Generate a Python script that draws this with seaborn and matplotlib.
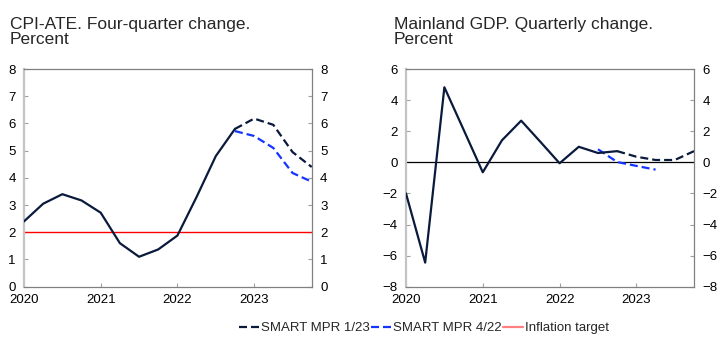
import matplotlib
matplotlib.use("Agg")
import matplotlib.pyplot as plt
from matplotlib.lines import Line2D
import seaborn as sns
import pandas as pd

# ---- data ----
quarters_hist = [2020.0, 2020.25, 2020.5, 2020.75, 2021.0, 2021.25, 2021.5, 2021.75,
                 2022.0, 2022.25, 2022.5, 2022.75]
quarters_fc = [2022.75, 2023.0, 2023.25, 2023.5, 2023.75]
quarters_fc422_gdp = [2022.5, 2022.75, 2023.0, 2023.25]

cpi_hist = [2.4, 3.05, 3.4, 3.17, 2.72, 1.6, 1.1, 1.37, 1.88, 3.3, 4.8, 5.8]
cpi_mpr123 = [5.8, 6.18, 5.95, 4.95, 4.4]
cpi_mpr422 = [5.72, 5.54, 5.1, 4.18, 3.86]
inflation_target = 2.0

gdp_hist = [-2.0, -6.45, 4.83, 2.1, -0.64, 1.42, 2.68, 1.32, -0.06, 1.0, 0.6, 0.72]
gdp_mpr123 = [0.72, 0.36, 0.15, 0.15, 0.72]
gdp_mpr422 = [0.84, 0.02, -0.23, -0.47]

year_ticks = [2020, 2021, 2022, 2023]
year_labels = ["2020", "2021", "2022", "2023"]
cpi_yticks = [0, 1, 2, 3, 4, 5, 6, 7, 8]
gdp_yticks = [-8, -6, -4, -2, 0, 2, 4, 6]

titles = ["CPI-ATE. Four-quarter change.", "Mainland GDP. Quarterly change."]
subtitle = "Percent"
legend_labels = ["SMART MPR 1/23", "SMART MPR 4/22", "Inflation target"]

# ---- style ----
sns.set_theme(style="white")
plt.rcParams["font.family"] = ["Liberation Sans", "DejaVu Sans"]

NAVY = "#0a1a3c"
BLUE = "#1434ff"
RED = "#ff0000"
SALMON = "#ff8080"
LW = 1.6
DASH = (3.6, 1.8)

fig = plt.figure(figsize=(7.22, 3.46), dpi=100)
ax1 = fig.add_axes([0.0332, 0.1714, 0.3985, 0.629])
ax2 = fig.add_axes([0.5623, 0.1714, 0.3989, 0.629])


def draw(ax, hist, fc123, fc422, x422):
    df_h = pd.DataFrame({"x": quarters_hist, "y": hist})
    df_a = pd.DataFrame({"x": quarters_fc, "y": fc123})
    df_b = pd.DataFrame({"x": x422, "y": fc422})
    sns.lineplot(data=df_b, x="x", y="y", ax=ax, color=BLUE, lw=LW,
                 zorder=3).lines[-1].set_dashes(DASH)
    sns.lineplot(data=df_a, x="x", y="y", ax=ax, color=NAVY, lw=LW,
                 zorder=4).lines[-1].set_dashes(DASH)
    sns.lineplot(data=df_h, x="x", y="y", ax=ax, color=NAVY, lw=LW, zorder=5)


draw(ax1, cpi_hist, cpi_mpr123, cpi_mpr422, quarters_fc)
ax1.axhline(inflation_target, color=RED, lw=1.0, zorder=2)
draw(ax2, gdp_hist, gdp_mpr123, gdp_mpr422, quarters_fc422_gdp)
ax2.axhline(0, color="black", lw=0.9, zorder=2)

for ax, yt in [(ax1, cpi_yticks), (ax2, gdp_yticks)]:
    ax.set_xlim(2020.0, 2023.75)
    ax.set_ylim(yt[0], yt[-1])
    ax.set_xticks(year_ticks)
    ax.set_xticklabels(year_labels)
    ax.set_yticks(yt)
    ax.set_xlabel("")
    ax.set_ylabel("")
    ax.tick_params(axis="y", which="both", left=True, right=True,
                   labelleft=True, labelright=True, direction="in",
                   length=3, width=0.8, color="#a0a0a0", pad=6,
                   labelsize=9.5, labelcolor="black")
    ax.tick_params(axis="x", bottom=True, direction="in", length=3,
                   width=0.8, color="#a0a0a0", pad=5, labelsize=9.5,
                   labelcolor="black")
    for s in ["top", "right", "bottom"]:
        ax.spines[s].set_visible(True)
        ax.spines[s].set_color("#808080")
        ax.spines[s].set_linewidth(0.9)
    ax.spines["left"].set_visible(True)
    ax.spines["left"].set_color("#c4c4c4")
    ax.spines["left"].set_linewidth(1.6)
    ax.grid(False)
    ax.set_facecolor("white")

fig.text(10 / 722, 1 - 44 / 346, titles[0] + "\n" + subtitle, fontsize=12.5,
         va="baseline", ha="left", linespacing=0.98)
fig.text(394 / 722, 1 - 44 / 346, titles[1] + "\n" + subtitle, fontsize=12.5,
         va="baseline", ha="left", linespacing=0.98)

handles = [
    Line2D([], [], color=NAVY, lw=LW, dashes=DASH),
    Line2D([], [], color=BLUE, lw=LW, dashes=DASH),
    Line2D([], [], color=SALMON, lw=LW),
]
fig.legend(handles, legend_labels, loc="center", bbox_to_anchor=(424 / 722, 1 - 328 / 346),
           ncol=3, frameon=False, fontsize=9.5, handlelength=1.5, handletextpad=0.15,
           columnspacing=0.1, borderpad=0)

fig.savefig("out.png", dpi=100, facecolor="white")
